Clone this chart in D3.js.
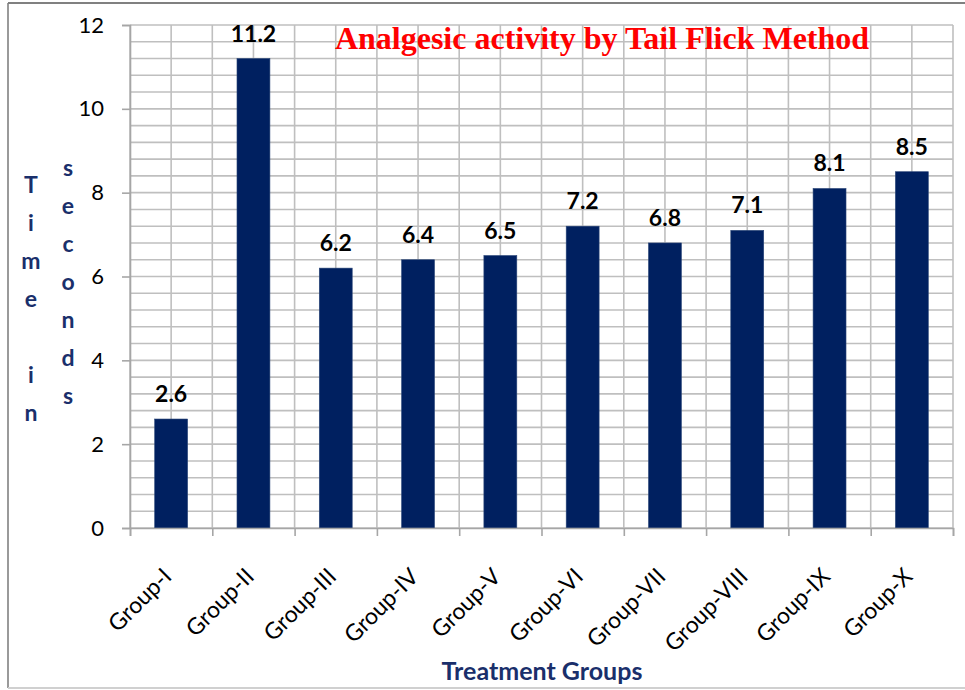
<!DOCTYPE html>
<html>
<head>
<meta charset="utf-8">
<script src="https://cdn.jsdelivr.net/npm/d3@7"></script>
<style>
  body { margin: 0; background: #fff; }
  svg { display: block; }
</style>
</head>
<body>
<div id="chart"></div>
<script>
// dados
const groups = ["Group-I", "Group-II", "Group-III", "Group-IV", "Group-V",
                "Group-VI", "Group-VII", "Group-VIII", "Group-IX", "Group-X"];
const times = [2.6, 11.2, 6.2, 6.4, 6.5, 7.2, 6.8, 7.1, 8.1, 8.5];
const yTicks = [0, 2, 4, 6, 8, 10, 12];
const titleText = "Analgesic activity by Tail Flick Method";
const xTitle = "Treatment Groups";
const yTitleCols = ["Time in", "seconds"];

const W = 965, H = 690;
const plot = {left: 130, right: 953, top: 25, bottom: 528};

const svg = d3.select("#chart").append("svg")
    .attr("width", W).attr("height", H);

// moldura externa
svg.append("line").attr("x1", 8).attr("x2", 8).attr("y1", 3).attr("y2", 688)
    .attr("stroke", "#9a9a9a").attr("stroke-width", 2);
svg.append("line").attr("x1", 8).attr("x2", W).attr("y1", 3).attr("y2", 3)
    .attr("stroke", "#808080").attr("stroke-width", 2);
svg.append("line").attr("x1", 8).attr("x2", W).attr("y1", 688).attr("y2", 688)
    .attr("stroke", "#d0d0d0").attr("stroke-width", 2);

// escalas
const x = d3.scaleBand()
    .domain(groups)
    .range([plot.left, plot.right])
    .paddingInner(0.6)
    .paddingOuter(0.3);

const y = d3.scaleLinear()
    .domain([0, 12])
    .range([plot.bottom, plot.top]);

// posição contínua das categorias (para grade e marcas)
const xi = d3.scaleLinear().domain([0, groups.length]).range([plot.left, plot.right]);

// grade
const grid = svg.append("g").attr("stroke", "#bfbfbf").attr("stroke-width", 1.6);
grid.selectAll(".h").data(d3.range(0, 31).map(k => k * 0.4))
    .enter().append("line")
    .attr("x1", plot.left).attr("x2", plot.right)
    .attr("y1", d => y(d)).attr("y2", d => y(d));
grid.selectAll(".v").data(d3.range(0, 21).map(k => k / 2))
    .enter().append("line")
    .attr("x1", d => xi(d)).attr("x2", d => xi(d))
    .attr("y1", plot.top).attr("y2", plot.bottom);

// barras
svg.selectAll("rect.bar")
    .data(times)
    .enter()
    .append("rect")
    .attr("class", "bar")
    .attr("x", (d, i) => x(groups[i]))
    .attr("width", x.bandwidth())
    .attr("y", d => y(d))
    .attr("height", d => y(0) - y(d))
    .attr("fill", "#002060")
    .attr("stroke", "#2a4678")
    .attr("stroke-width", 0.6);

// rótulos de dados
svg.selectAll("text.val")
    .data(times)
    .enter()
    .append("text")
    .attr("x", (d, i) => x(groups[i]) + x.bandwidth() / 2)
    .attr("y", d => y(d) - 17)
    .attr("text-anchor", "middle")
    .style("font-family", "Lato, sans-serif")
    .style("font-weight", "bold")
    .style("font-size", "23px")
    .style("fill", "#000")
    .text(d => d.toFixed(1));

// eixo Y
const yAxis = svg.append("g")
    .attr("transform", `translate(${plot.left},0)`)
    .call(d3.axisLeft(y).tickValues(yTicks).tickSize(8).tickPadding(18).tickFormat(d3.format("d")));
yAxis.select(".domain").attr("stroke", "#a6a6a6").attr("stroke-width", 1.6);
yAxis.selectAll(".tick line").attr("stroke", "#a6a6a6").attr("stroke-width", 1.6);
yAxis.selectAll(".tick text")
    .style("font-family", "Lato, sans-serif")
    .style("font-size", "22px")
    .style("fill", "#000");

// eixo X: marcas nas fronteiras das categorias
const xAxis = svg.append("g")
    .attr("transform", `translate(0,${plot.bottom})`)
    .call(d3.axisBottom(xi).tickValues(d3.range(0, groups.length + 1)).tickSize(8).tickFormat(""));
xAxis.select(".domain").attr("stroke", "#a6a6a6").attr("stroke-width", 1.6);
xAxis.selectAll(".tick line").attr("stroke", "#a6a6a6").attr("stroke-width", 1.6);

// rótulos das categorias, inclinados
svg.selectAll("text.cat")
    .data(groups)
    .enter()
    .append("text")
    .attr("transform", d => `translate(${x(d) + x.bandwidth() / 2 + 2},578) rotate(-45)`)
    .attr("text-anchor", "end")
    .style("font-family", "Lato, sans-serif")
    .style("font-size", "23px")
    .style("fill", "#000")
    .text(d => d);

// título
svg.append("text")
    .attr("x", 602)
    .attr("y", 49)
    .attr("text-anchor", "middle")
    .style("font-family", "'Liberation Serif', 'Times New Roman', serif")
    .style("font-weight", "bold")
    .style("font-size", "32px")
    .style("fill", "#ff0000")
    .text(titleText);

// título do eixo X
svg.append("text")
    .attr("x", 542)
    .attr("y", 680)
    .attr("text-anchor", "middle")
    .style("font-family", "Lato, sans-serif")
    .style("font-weight", "bold")
    .style("font-size", "25px")
    .style("fill", "#1a2f6b")
    .text(xTitle);

// título do eixo Y: letras empilhadas em duas colunas
const colX = [31, 68];
const colY0 = [185, 168];
const yt = svg.append("g")
    .style("font-family", "Lato, sans-serif")
    .style("font-weight", "bold")
    .style("font-size", "23px")
    .style("fill", "#1a2f6b")
    .attr("text-anchor", "middle");
yTitleCols.forEach((word, c) => {
    yt.selectAll(`text.c${c}`)
        .data(word.split(""))
        .enter()
        .append("text")
        .attr("x", colX[c])
        .attr("y", (ch, i) => colY0[c] + i * 38)
        .attr("dy", "0.35em")
        .text(ch => ch);
});
</script>
</body>
</html>
